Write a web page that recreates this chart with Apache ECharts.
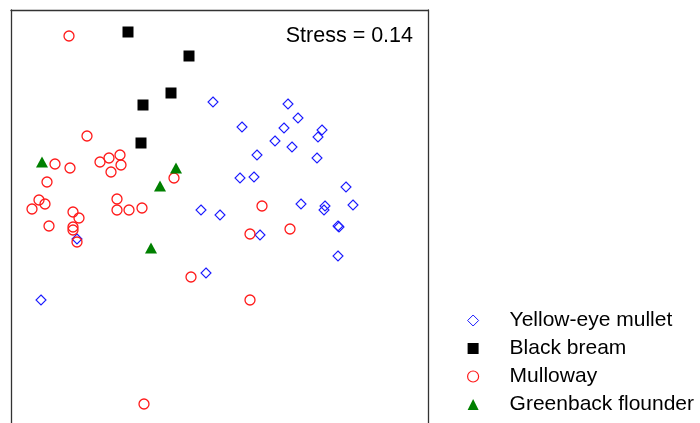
<!DOCTYPE html>
<html>
<head>
<meta charset="utf-8">
<script src="https://cdn.jsdelivr.net/npm/echarts@6/dist/echarts.min.js"></script>
<style>
  html, body { margin: 0; padding: 0; background: #fff; }
  #chart { width: 700px; height: 423px; }
</style>
</head>
<body>
<div id="chart"></div>
<script>
// NMDS ordination of diet samples (axis 1, axis 2)
const speciesNames = ['Yellow-eye mullet', 'Black bream', 'Mulloway', 'Greenback flounder'];
const stressLabel = 'Stress = 0.14';

const yellowEyeMullet = [
  [-0.07, 1.28], [0.68, 1.26], [0.78, 1.12], [0.22, 1.03], [0.64, 1.02],
  [1.02, 1.00], [0.98, 0.93], [0.55, 0.89], [0.72, 0.83], [0.97, 0.72],
  [0.37, 0.75], [0.20, 0.52], [0.34, 0.53], [1.26, 0.43], [-0.19, 0.20],
  [0.00, 0.15], [0.81, 0.26], [1.05, 0.24], [1.04, 0.20], [1.33, 0.25],
  [1.18, 0.04], [1.19, 0.03], [0.40, -0.05], [1.18, -0.26], [-0.14, -0.43],
  [-1.43, -0.09], [-1.79, -0.70]
];

const blackBream = [
  [-0.92, 1.98], [-0.31, 1.74], [-0.49, 1.37], [-0.77, 1.25], [-0.79, 0.87]
];

const mulloway = [
  [-1.51, 1.94], [-1.33, 0.94], [-1.65, 0.66], [-1.50, 0.62], [-1.20, 0.68],
  [-1.11, 0.72], [-1.00, 0.75], [-0.99, 0.65], [-1.09, 0.58], [-0.46, 0.52],
  [-1.73, 0.48], [-1.81, 0.30], [-1.75, 0.26], [-1.88, 0.21], [-1.03, 0.31],
  [-1.03, 0.20], [-0.91, 0.20], [-0.78, 0.22], [-1.47, 0.18], [-1.41, 0.12],
  [-1.71, 0.04], [-1.47, 0.03], [-1.47, 0.00], [-1.43, -0.12], [0.42, 0.24],
  [0.70, 0.01], [0.30, -0.04], [-0.29, -0.47], [0.30, -0.70], [-0.76, -1.74]
];

const greenbackFlounder = [
  [-1.78, 0.68], [-0.44, 0.62], [-0.60, 0.44], [-0.69, -0.18]
];

const FONT = '"Liberation Sans", Arial, Helvetica, sans-serif';
const chart = echarts.init(document.getElementById('chart'), null, { renderer: 'canvas' });

// Frame: top, left and right edges only; the panel runs off the bottom of the page
const frameLine = { show: true, onZero: false, lineStyle: { color: '#333', width: 1.3 } };
const bare = { axisTick: { show: false }, axisLabel: { show: false }, splitLine: { show: false } };

chart.setOption({
  animation: false,
  backgroundColor: '#ffffff',
  title: {
    text: stressLabel,
    right: 287,
    top: 25,
    padding: 0,
    textStyle: { fontFamily: FONT, fontSize: 21.5, fontWeight: 'normal', color: '#000' }
  },
  legend: {
    orient: 'vertical',
    left: 467,
    top: 310,
    itemWidth: 11,
    itemHeight: 11,
    itemGap: 7,
    padding: 0,
    data: [
      { name: speciesNames[0], itemStyle: { borderWidth: 1 } },
      { name: speciesNames[1] },
      { name: speciesNames[2], itemStyle: { borderWidth: 1.2 } },
      { name: speciesNames[3] }
    ],
    textStyle: { fontFamily: FONT, fontSize: 21, color: '#000', padding: [0, 0, 0, 26] }
  },
  grid: { left: 11, top: 10, width: 417, height: 413, show: false },
  xAxis: Object.assign({ type: 'value', min: -2.09, max: 2.08, position: 'top', axisLine: frameLine }, bare),
  yAxis: [
    Object.assign({ type: 'value', min: -1.93, max: 2.2, position: 'left', axisLine: frameLine }, bare),
    Object.assign({ type: 'value', min: -1.93, max: 2.2, position: 'right', axisLine: frameLine }, bare)
  ],
  series: [
    {
      name: speciesNames[0], type: 'scatter', data: yellowEyeMullet,
      symbol: 'diamond', symbolSize: 10,
      itemStyle: { color: 'rgba(0,0,0,0)', borderColor: '#1a1aff', borderWidth: 1.1, opacity: 1 }
    },
    {
      name: speciesNames[1], type: 'scatter', data: blackBream,
      symbol: 'rect', symbolSize: 11,
      itemStyle: { color: '#000', opacity: 1 }
    },
    {
      name: speciesNames[2], type: 'scatter', data: mulloway,
      symbol: 'circle', symbolSize: 10,
      itemStyle: { color: 'rgba(0,0,0,0)', borderColor: '#ff1a1a', borderWidth: 1.3, opacity: 1 }
    },
    {
      name: speciesNames[3], type: 'scatter', data: greenbackFlounder,
      symbol: 'triangle', symbolSize: [12, 11],
      itemStyle: { color: '#008000', opacity: 1 }
    }
  ]
});
</script>
</body>
</html>
